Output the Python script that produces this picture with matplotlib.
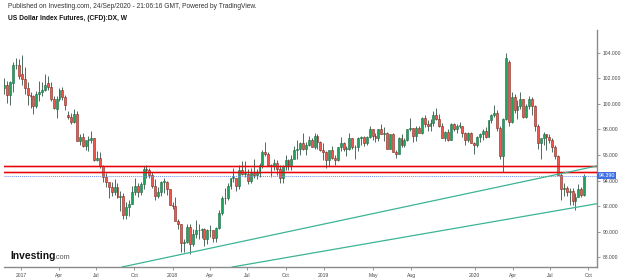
import numpy as np
import pandas as pd
import matplotlib
matplotlib.use('Agg')
import matplotlib.pyplot as plt
import matplotlib.dates as mdates
import matplotlib.transforms as mtransforms

# weekly OHLC, US Dollar Index Futures, starting week of 2016-11-21
opens = [101.2, 101.5, 100.7, 101.6, 103.0, 103.0,
         102.3, 101.9, 101.2, 100.7, 100.6, 99.8, 100.8, 100.9, 101.1, 101.6, 101.3, 100.4, 99.6,
         100.4, 101.1, 100.5, 99.1, 99.0, 98.6, 99.2, 97.1, 97.4, 96.7, 97.2, 97.2, 97.3, 95.6,
         95.8, 95.1, 94.3, 93.9, 93.5, 93.1, 93.5, 92.7, 92.8, 91.3, 91.9, 92.2, 93.1, 93.6,
         93.1, 93.7, 94.9, 94.8, 94.4, 93.6, 92.8, 93.1, 93.9, 93.9, 93.3,
         92.1, 92.0, 90.8, 90.6, 89.1, 89.2, 90.4, 89.0, 89.8, 90.1, 90.1, 90.2, 89.4,
         90.1, 90.1, 89.5, 90.3, 91.5, 92.6, 92.6, 93.6, 94.2, 94.2, 93.6, 94.8, 94.5,
         94.5, 94.0, 94.6, 94.4, 94.6, 95.2, 96.2, 96.1, 95.2, 95.1, 95.4, 94.9, 94.2,
         95.1, 95.6, 95.2, 95.7, 96.4, 96.5, 96.9, 96.5, 96.8, 97.2, 96.6, 97.5, 97.0, 96.4,
         96.2, 95.6, 96.4, 95.8, 95.6, 96.6, 96.9, 96.5, 96.5, 97.3, 96.6, 96.6,
         97.3, 97.4, 96.9, 97.4, 98.0, 97.5, 97.3, 98.0, 97.6, 97.7, 96.5, 97.6, 96.2,
         96.1, 97.3, 96.8, 97.2, 98.0, 98.1, 97.5, 98.1, 97.7, 98.9, 98.4, 98.3, 98.5,
         99.1, 98.8, 98.3, 97.3, 97.8, 97.2, 98.4, 98.0, 98.3, 98.3, 97.7, 97.2, 97.7, 96.9,
         96.8, 97.4, 97.6, 97.9, 97.4, 98.7, 99.1, 99.3, 98.1, 95.9, 98.8, 103.3, 98.6,
         100.5, 99.5, 99.8, 100.4, 99.0, 99.8, 100.4, 99.8, 98.3, 96.9, 97.3, 97.6, 97.4,
         97.2, 96.6, 95.9, 94.4, 93.3, 93.4, 93.1, 93.2, 92.4, 92.7, 93.3, 92.9]
highs = [102.0, 101.8, 101.8, 103.3, 103.6, 103.5,
         103.8, 102.9, 101.7, 100.9, 100.7, 101.0, 101.8, 101.7, 102.3, 102.2, 101.7, 100.6, 100.6,
         101.2, 101.3, 100.7, 99.4, 99.3, 99.6, 99.4, 97.6, 97.7, 97.1, 97.5, 97.9, 97.3, 96.3,
         96.2, 95.2, 94.6, 93.9, 93.9, 94.1, 93.8, 93.2, 93.0, 92.3, 92.5, 93.6, 94.2, 93.8,
         93.9, 95.1, 95.2, 95.0, 94.7, 94.1, 93.5, 94.0, 94.2, 94.0, 93.3,
         92.3, 92.7, 91.0, 90.6, 89.4, 90.6, 90.6, 90.2, 90.9, 90.6, 90.3, 90.3, 90.2,
         90.5, 90.1, 90.4, 91.7, 92.8, 93.4, 93.8, 94.2, 95.0, 94.2, 95.2, 95.5, 95.5,
         94.9, 95.0, 95.7, 94.9, 95.4, 96.4, 97.0, 96.2, 95.3, 95.7, 95.6, 95.2, 95.2,
         96.0, 95.7, 96.0, 96.7, 97.2, 97.0, 97.7, 97.0, 97.5, 97.3, 97.7, 97.6, 97.1,
         96.9, 96.3, 96.4, 96.7, 96.0, 96.6, 97.4, 97.0, 96.7, 97.7, 97.3, 96.8,
         97.4, 97.5, 97.5, 97.5, 98.3, 98.0, 97.7, 98.0, 98.4, 98.2, 97.8, 97.6, 97.7,
         96.4, 97.4, 97.6, 97.3, 98.0, 98.9, 98.1, 98.3, 98.3, 99.0, 99.1, 98.7, 98.8,
         99.4, 99.7, 99.2, 98.5, 97.9, 98.0, 98.5, 98.5, 98.4, 98.6, 98.3, 97.8, 97.8, 97.8,
         97.0, 97.5, 97.7, 98.0, 98.2, 98.7, 99.2, 99.9, 99.5, 98.3, 98.9, 104.0, 103.4,
         100.9, 100.8, 100.3, 100.9, 100.4, 100.0, 100.6, 100.5, 99.9, 98.4, 97.2, 97.8, 97.6,
         97.6, 97.3, 96.8, 96.0, 94.7, 93.8, 93.6, 93.4, 93.4, 93.0, 93.7, 93.5, 94.5]
lows = [100.8, 100.1, 99.9, 100.9, 102.7, 101.9,
        101.5, 100.8, 99.9, 99.7, 99.2, 99.7, 100.2, 100.6, 101.0, 101.1, 100.2, 99.6, 98.9,
        100.2, 100.3, 99.5, 98.8, 98.4, 98.5, 97.1, 96.8, 96.6, 96.4, 96.3, 96.9, 95.5, 95.5,
        95.0, 93.9, 93.5, 92.6, 92.8, 92.9, 92.6, 91.6, 91.0, 91.0, 91.2, 92.2, 92.9, 92.7,
        92.9, 93.3, 94.2, 94.2, 93.4, 92.5, 92.6, 92.8, 93.0, 92.9, 92.1,
        91.8, 90.9, 90.2, 88.4, 88.4, 89.1, 88.25, 88.9, 89.5, 89.4, 89.5, 88.9,
        89.0, 89.6, 89.2, 89.2, 90.2, 91.3, 92.2, 92.5, 93.3, 93.9, 93.2, 93.3, 94.4,
        94.3, 93.7, 93.8, 94.2, 94.1, 94.3, 95.0, 95.9, 95.1, 94.3, 94.8, 94.4, 93.8,
        93.8, 94.8, 94.8, 94.8, 95.7, 95.7, 96.0, 96.4, 96.0, 96.7, 96.6, 96.5, 96.5, 96.3,
        95.6, 95.0, 95.1, 95.7, 95.2, 95.5, 96.3, 96.3, 95.9, 96.4, 96.5, 95.7,
        96.3, 96.8, 96.7, 96.8, 97.3, 97.2, 97.0, 97.1, 97.6, 97.1, 96.5, 96.5, 96.2,
        95.8, 96.1, 96.6, 96.6, 97.1, 97.9, 97.0, 97.1, 97.7, 97.6, 98.2, 97.9, 97.9,
        98.3, 98.7, 98.2, 97.3, 97.1, 97.1, 97.2, 97.9, 97.7, 98.1, 97.4, 96.8, 97.0, 96.9,
        96.1, 96.6, 97.0, 97.2, 97.3, 97.4, 98.5, 99.0, 97.9, 95.7, 94.7, 98.7, 98.3,
        98.5, 99.3, 98.8, 99.6, 98.9, 98.9, 99.6, 99.1, 97.9, 96.5, 95.7, 96.8, 96.4,
        96.9, 96.2, 95.7, 94.4, 92.5, 92.8, 92.8, 92.1, 92.1, 91.7, 92.7, 92.7, 92.8]
closes = [101.5, 100.7, 101.7, 103.0, 103.0, 102.2,
          101.9, 101.2, 100.7, 100.6, 99.8, 100.8, 100.9, 101.1, 101.5, 101.3, 100.4, 99.7, 100.4,
          101.1, 100.5, 99.9, 99.0, 98.6, 99.2, 97.1, 97.4, 96.7, 97.2, 97.2, 97.3, 95.6, 95.8,
          95.1, 94.3, 93.9, 93.5, 93.1, 93.5, 92.7, 92.8, 91.3, 91.9, 92.2, 93.1, 93.6, 93.1,
          93.7, 94.9, 94.8, 94.4, 93.6, 92.8, 93.1, 93.9, 93.9, 93.3, 92.1,
          92.0, 90.8, 90.6, 89.1, 89.2, 90.4, 89.0, 89.8, 90.1, 90.1, 90.2, 89.4, 90.1,
          90.1, 89.5, 90.3, 91.5, 92.6, 92.6, 93.6, 94.2, 94.2, 93.6, 94.8, 94.5, 94.5,
          94.0, 94.6, 94.4, 94.6, 95.2, 96.2, 96.1, 95.2, 95.1, 95.4, 94.9, 94.2, 95.1,
          95.6, 95.2, 95.7, 96.4, 96.5, 96.9, 96.5, 96.8, 97.2, 96.6, 97.5, 97.0, 96.4, 96.2,
          95.6, 96.4, 95.8, 95.6, 96.6, 96.9, 96.5, 96.5, 97.3, 96.6, 96.6, 97.3,
          97.4, 96.9, 97.4, 98.0, 97.5, 97.3, 98.0, 97.6, 97.7, 96.5, 97.6, 96.2, 96.1,
          97.3, 96.8, 97.2, 98.0, 98.1, 97.5, 98.1, 97.7, 98.9, 98.4, 98.3, 98.5, 99.1,
          98.8, 98.3, 97.3, 97.8, 97.2, 98.4, 98.0, 98.3, 98.3, 97.7, 97.2, 97.7, 96.9, 96.8,
          97.4, 97.6, 97.9, 97.4, 98.7, 99.1, 99.3, 98.1, 95.9, 98.8, 103.6, 98.6, 100.5,
          99.5, 99.8, 100.4, 99.0, 99.8, 100.4, 99.8, 98.3, 96.9, 97.3, 97.6, 97.4, 97.2,
          96.6, 95.9, 94.4, 93.3, 93.4, 93.1, 93.2, 92.4, 92.7, 93.3, 92.9, 94.39]

dates = pd.date_range('2016-11-21', periods=len(closes), freq='7D')

# drawn levels and trend lines
resistance_levels = [95.17, 94.63]
last_price = 94.39
trend_upper_dates = ['2017-09-01', '2020-10-22']
trend_upper_vals = [87.24, 95.14]
trend_lower_dates = ['2018-05-25', '2020-10-22']
trend_lower_vals = [87.24, 92.19]

tick_dates = ['2017-01-01', '2017-04-01', '2017-07-01', '2017-10-01', '2018-01-01',
              '2018-04-01', '2018-07-01', '2018-10-01', '2019-01-01', '2019-05-01',
              '2019-08-01', '2020-01-01', '2020-04-01', '2020-07-01', '2020-10-01']
tick_labels = ['2017', 'Apr', 'Jul', 'Oct', '2018', 'Apr', 'Jul', 'Oct', '2019', 'May',
               'Aug', '2020', 'Apr', 'Jul', 'Oct']
y_ticks = [88, 90, 92, 94, 96, 98, 100, 102, 104]

plt.rcParams['font.family'] = ['Liberation Sans', 'DejaVu Sans']

fig = plt.figure(figsize=(6.25, 2.79), dpi=100)
ax = fig.add_axes([4 / 625, 1 - 267 / 279, 593 / 625, 237 / 279])

o = np.array(opens)
h = np.array(highs)
l = np.array(lows)
c = np.array(closes)
x = mdates.date2num(dates)
up = c >= o

# wicks
ax.vlines(x, l, h, color='#4d6b5c', linewidth=0.7, zorder=2)
# bodies
body_bot = np.minimum(o, c)
body_h = np.maximum(np.abs(c - o), 0.06)
ax.bar(x[up], body_h[up], bottom=body_bot[up], width=4.6, color='#1fa35c',
       edgecolor='#1d6b43', linewidth=0.4, zorder=3)
ax.bar(x[~up], body_h[~up], bottom=body_bot[~up], width=4.6, color='#f0584e',
       edgecolor='#7d2620', linewidth=0.4, zorder=3)

# horizontal levels
for lv in resistance_levels:
    ax.axhline(lv, color='#fbc4c4', linewidth=1.9, zorder=1)
    ax.axhline(lv, color='#e8000b', linewidth=0.9, zorder=4)
ax.axhline(last_price, color='#6f8ff0', linewidth=0.7, linestyle=(0, (1, 1)), zorder=4)

# trend lines
ax.plot(mdates.date2num(pd.to_datetime(trend_upper_dates)), trend_upper_vals,
        color='#3bb495', linewidth=0.9, zorder=4)
ax.plot(mdates.date2num(pd.to_datetime(trend_lower_dates)), trend_lower_vals,
        color='#3bb495', linewidth=0.9, zorder=4)

ax.set_xlim(mdates.date2num(pd.Timestamp('2016-11-20')),
            mdates.date2num(pd.Timestamp('2020-10-22')))
ax.set_ylim(87.24, 105.77)

ax.set_xticks(mdates.date2num(pd.to_datetime(tick_dates)))
ax.set_xticklabels(tick_labels)
ax.set_yticks(y_ticks)
ax.set_yticklabels(['%.3f' % v for v in y_ticks])
ax.yaxis.tick_right()
ax.tick_params(axis='both', labelsize=3.6, colors='#444444', length=2.5, width=0.6,
               pad=1.5)
ax.tick_params(axis='both', color='#888888')

for side in ['top', 'left']:
    ax.spines[side].set_visible(False)
for side in ['right', 'bottom']:
    ax.spines[side].set_color('#8a8a8a')
    ax.spines[side].set_linewidth(1.0)

# last price tag
trans = mtransforms.blended_transform_factory(ax.transAxes, ax.transData)
ax.text(1.003, last_price, '94.390', transform=trans, fontsize=3.8, color='white',
        ha='left', va='center', zorder=10, clip_on=False,
        bbox=dict(boxstyle='square,pad=0.25', facecolor='#3f6fe3', edgecolor='none'))

# header
fig.text(8 / 625, 1 - 7 / 279, 'Published on Investing.com, 24/Sep/2020 - 21:06:16 GMT, Powered by TradingView.',
         fontsize=4.8, color='#333333', ha='left', va='center')
fig.text(8 / 625, 1 - 19 / 279, 'US Dollar Index Futures, (CFD):DX, W',
         fontsize=4.8, color='#111111', fontweight='bold', ha='left', va='center')

# logo
fig.text(10 / 625, 1 - 259 / 279, 'Investing', fontsize=7.4, fontweight='bold',
         color='#111111', ha='left', va='baseline')
fig.text(54 / 625, 1 - 259 / 279, '.com', fontsize=5.2, color='#555555',
         ha='left', va='baseline')

plt.savefig('out.png', dpi=100)
